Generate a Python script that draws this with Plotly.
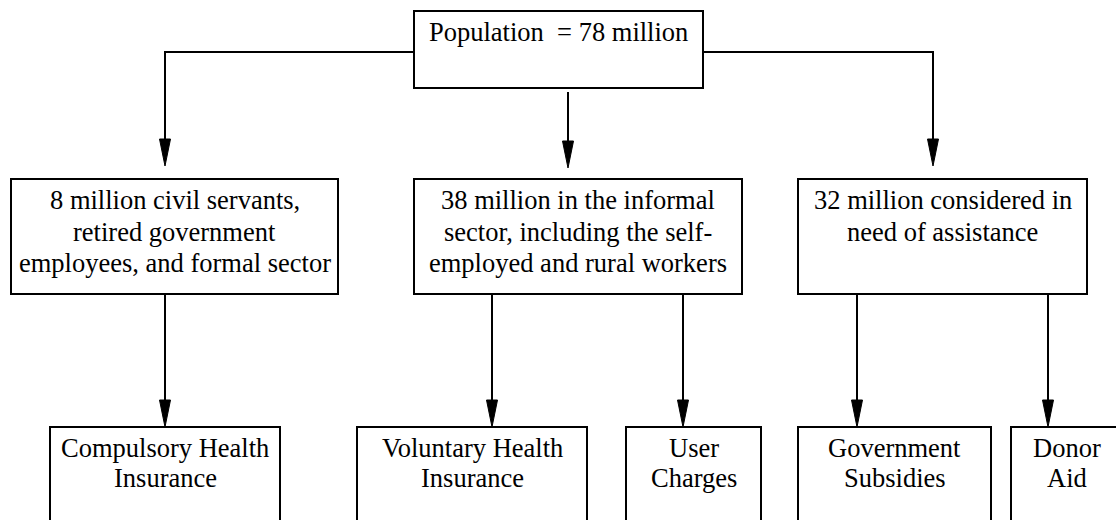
import plotly.graph_objects as go

# ---- content ----
top_label = "Population\u00a0 = 78 million"
group_labels = [
    "8 million civil servants,<br>retired government<br>employees, and formal sector",
    "38 million in the informal<br>sector, including the self-<br>employed and rural workers",
    "32 million considered in<br>need of assistance",
]
mechanism_labels = [
    "Compulsory Health<br>Insurance",
    "Voluntary Health<br>Insurance",
    "User<br>Charges",
    "Government<br>Subsidies",
    "Donor<br>Aid",
]
mechanism_parent = [0, 1, 1, 2, 2]

# ---- layout geometry (pixel space) ----
W, H = 1116, 520
top_box = (414, 703, 11, 88)
top_text_y = 32
top_branch_y = 52
top_mid_arrow_x = 568
group_x = [(11, 338), (414, 742), (798, 1087)]
group_y = (179, 294)
group_arrow_x = [165, 568, 933]
group_arrow_tip = [166, 168, 166]
group_text_y0, line_gap = 200, 31.5
mech_x = [(50, 280), (357, 587), (626, 761), (798, 991), (1011, 1123)]
mech_y = (427, 600)
mech_arrow_x = [165, 492, 683, 857, 1048]
mech_text_y0, mech_gap = 448, 30

FONT = dict(family="Liberation Serif, Times New Roman, serif", size=26.5, color="black")
LW = 2
HEAD_L, HEAD_W = 27, 5.5

shapes = []
annotations = []


def box(x0, x1, y0, y1):
    shapes.append(dict(type="rect", xref="x", yref="y", x0=x0, x1=x1, y0=y0, y1=y1,
                       line=dict(color="black", width=LW), fillcolor="white", layer="above"))


def seg(pts):
    path = "M " + " L ".join(f"{x},{y}" for x, y in pts)
    shapes.append(dict(type="path", xref="x", yref="y", path=path,
                       line=dict(color="black", width=LW), layer="above"))


def head(x, tip):
    path = f"M {x-HEAD_W},{tip-HEAD_L} L {x+HEAD_W},{tip-HEAD_L} L {x},{tip} Z"
    shapes.append(dict(type="path", xref="x", yref="y", path=path, fillcolor="black",
                       line=dict(color="black", width=1), layer="above"))


def text_lines(label, cx, y0, gap, font=FONT):
    for i, line in enumerate(label.split("<br>")):
        annotations.append(dict(x=cx, y=y0 + i * gap, xref="x", yref="y", text=line,
                                showarrow=False, xanchor="center", yanchor="middle", font=font))


# top box
tx0, tx1, ty0, ty1 = top_box
box(tx0, tx1, ty0, ty1)
text_lines(top_label, (tx0 + tx1) / 2, top_text_y, line_gap)

# connectors from the top box to the three population groups
seg([(tx0, top_branch_y), (group_arrow_x[0], top_branch_y), (group_arrow_x[0], group_arrow_tip[0] - HEAD_L + 1)])
head(group_arrow_x[0], group_arrow_tip[0])
seg([(top_mid_arrow_x, ty1 + 4), (top_mid_arrow_x, group_arrow_tip[1] - HEAD_L + 1)])
head(top_mid_arrow_x, group_arrow_tip[1])
seg([(tx1, top_branch_y), (group_arrow_x[2], top_branch_y), (group_arrow_x[2], group_arrow_tip[2] - HEAD_L + 1)])
head(group_arrow_x[2], group_arrow_tip[2])

# population group boxes
for (x0, x1), lab in zip(group_x, group_labels):
    box(x0, x1, group_y[0], group_y[1])
    text_lines(lab, (x0 + x1) / 2, group_text_y0, line_gap)

# financing mechanism boxes and arrows
for (x0, x1), lab, ax in zip(mech_x, mechanism_labels, mech_arrow_x):
    seg([(ax, group_y[1]), (ax, mech_y[0] - HEAD_L + 1)])
    head(ax, mech_y[0])
    box(x0, x1, mech_y[0], mech_y[1])
    text_lines(lab, (x0 + x1) / 2, mech_text_y0, mech_gap)

fig = go.Figure()
fig.add_trace(go.Scatter(x=[0, W], y=[0, H], mode="markers", marker=dict(opacity=0),
                         hoverinfo="skip", showlegend=False))
fig.update_layout(
    width=W, height=H, margin=dict(l=0, r=0, t=0, b=0),
    paper_bgcolor="white", plot_bgcolor="white",
    xaxis=dict(range=[0, W], visible=False, fixedrange=True),
    yaxis=dict(range=[H, 0], visible=False, fixedrange=True),
    shapes=shapes, annotations=annotations, showlegend=False,
)
fig.write_html(
    "out.html",
    config={"displayModeBar": False},
    post_script="document.body.style.margin='0';document.body.style.overflow='hidden';",
)
